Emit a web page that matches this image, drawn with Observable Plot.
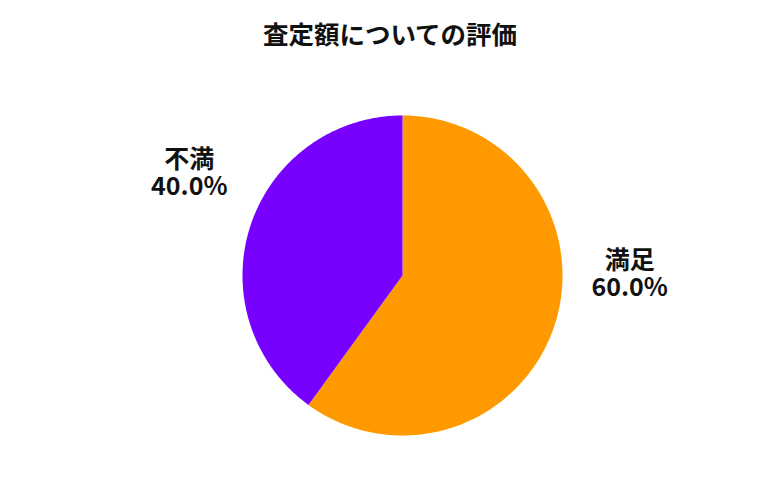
<!DOCTYPE html>
<html><head><meta charset="utf-8">
<script src="https://cdn.jsdelivr.net/npm/d3@7"></script>
<script src="https://cdn.jsdelivr.net/npm/@observablehq/plot@0.6"></script>
<style>
body{margin:0;background:#fff;font-family:"Noto Sans CJK JP","Noto Sans",sans-serif;}
#title{height:70px;line-height:66px;text-align:center;font-size:25.5px;font-weight:bold;color:#111;}
</style></head><body>
<div id="title">査定額についての評価</div>
<div id="chart"></div>
<script>
const categories = ["満足", "不満"];
const values = [60.0, 40.0];
const colors = ["#FF9900", "#7700FF"];

const W = 780, H = 430, R = 160, CX = 402, CY = 205;
const arcs = d3.pie().sort(null)(values);
const pts = [];
arcs.forEach((a, i) => {
  pts.push({c: categories[i], x: 0, y: 0});
  const n = 200;
  for (let k = 0; k <= n; k++) {
    const t = a.startAngle + (a.endAngle - a.startAngle) * k / n;
    pts.push({c: categories[i], x: Math.sin(t), y: -Math.cos(t)});
  }
});
const labelPos = arcs.map((a, i) => {
  const m = (a.startAngle + a.endAngle) / 2;
  return {c: categories[i], v: values[i], m};
});
const lx = d => d.m < Math.PI ? 1.42 : -1.333;
const ly = d => d.m < Math.PI ? -0.008 : -0.6375;
const svg = Plot.plot({
  width: W, height: H, margin: 0,
  x: {domain: [-CX / R, (W - CX) / R], range: [0, W], axis: null},
  y: {domain: [-CY / R, (H - CY) / R], range: [0, H], axis: null},
  color: {domain: categories, range: colors},
  style: {fontFamily: '"Noto Sans CJK JP", sans-serif', background: "#fff"},
  marks: [
    Plot.line(pts, {x: "x", y: "y", z: "c", fill: "c", stroke: "none", curve: "linear-closed"}),
    Plot.text(labelPos, {
      x: lx, y: ly, dy: -13.5,
      text: d => d.c,
      fontSize: 25, fontWeight: "bold", fill: "#111"
    }),
    Plot.text(labelPos, {
      x: lx, y: ly, dy: 13.5,
      text: d => `${d.v.toFixed(1)}%`,
      fontSize: 25, fontWeight: "bold", fill: "#111"
    })
  ]
});
document.getElementById("chart").appendChild(svg);
</script></body></html>
